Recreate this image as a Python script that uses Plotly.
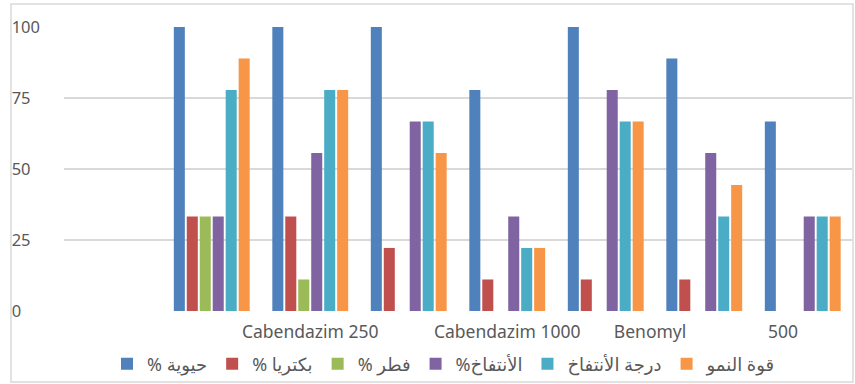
import plotly.graph_objects as go

# category positions (8 groups, first one empty)
group_index = [0, 1, 2, 3, 4, 5, 6, 7]

# x tick labels as they appear under the axis
tick_labels = ["Cabendazim 250", "Cabendazim 1000", "Benomyl", "500"]
tick_positions = [2.0, 4.0, 5.45, 6.8]

series_names = ["% حيوية", "% بكتريا", "% فطر", "%الأنتفاخ", "درجة الأنتفاخ", "قوة النمو"]

vitality = [None, 100, 100, 100, 77.8, 100, 88.9, 66.7]
bacteria = [None, 33.3, 33.3, 22.2, 11.1, 11.1, 11.1, 0]
fungus = [None, 33.3, 11.1, 0, 0, 0, 0, 0]
swelling = [None, 33.3, 55.6, 66.7, 33.3, 77.8, 55.6, 33.3]
swelling_degree = [None, 77.8, 77.8, 66.7, 22.2, 66.7, 33.3, 33.3]
growth_vigor = [None, 88.9, 77.8, 55.6, 22.2, 66.7, 44.4, 33.3]

series_values = [vitality, bacteria, fungus, swelling, swelling_degree, growth_vigor]
colors = ["#4F81BD", "#C0504D", "#9BBB59", "#8064A2", "#4BACC6", "#F79646"]

y_ticks = [0, 25, 50, 75, 100]
y_tick_text = ["0\u2007\u2007", "25\u2007", "50\u2007", "75\u2007", "100"]

fig = go.Figure()
for name, vals, col in zip(series_names, series_values, colors):
    fig.add_trace(go.Bar(x=group_index, y=vals, name=name, marker_color=col,
                         marker_line_width=0))

W, H = 855, 384
ml, mr, mt, mb = 64, 3, 27, 73
pw, ph = W - ml - mr, H - mt - mb

def px_x(p):
    return (p - ml) / pw

def px_y(p):
    return (H - mb - p) / ph

fig.update_layout(
    width=W, height=H,
    margin=dict(l=ml, r=mr, t=mt, b=mb, autoexpand=False),
    paper_bgcolor="white", plot_bgcolor="white",
    barmode="group", bargap=0.21, bargroupgap=0.15,
    font=dict(family="Noto Sans, DejaVu Sans", color="#595959", size=15),
    xaxis=dict(range=[-0.5, 7.5], tickmode="array", tickvals=tick_positions,
               ticktext=tick_labels, showgrid=False, zeroline=False,
               showline=False, ticks="", ticklabelstandoff=8, automargin=False,
               tickfont=dict(size=17.5, color="#595959")),
    yaxis=dict(range=[0, 100], tickmode="array", tickvals=y_ticks,
               ticktext=y_tick_text, showgrid=True, gridcolor="#D9D9D9",
               gridwidth=1.5, zeroline=False, showline=False, ticks="",
               ticklabelstandoff=23, automargin=False,
               tickfont=dict(size=16.5, color="#595959")),
    legend=dict(orientation="h", x=px_x(444), xanchor="center", y=px_y(364),
                yanchor="middle", font=dict(size=18, color="#595959"),
                bgcolor="rgba(0,0,0,0)", itemwidth=30, traceorder="normal"),
    shapes=[dict(type="rect", xref="paper", yref="paper",
                 x0=px_x(11), x1=px_x(853), y0=px_y(382), y1=px_y(4),
                 line=dict(color="#D9D9D9", width=1.5), layer="below")],
)

fig.write_html("out.html", config={"displayModeBar": False},
               post_script="document.body.style.margin='0';")
